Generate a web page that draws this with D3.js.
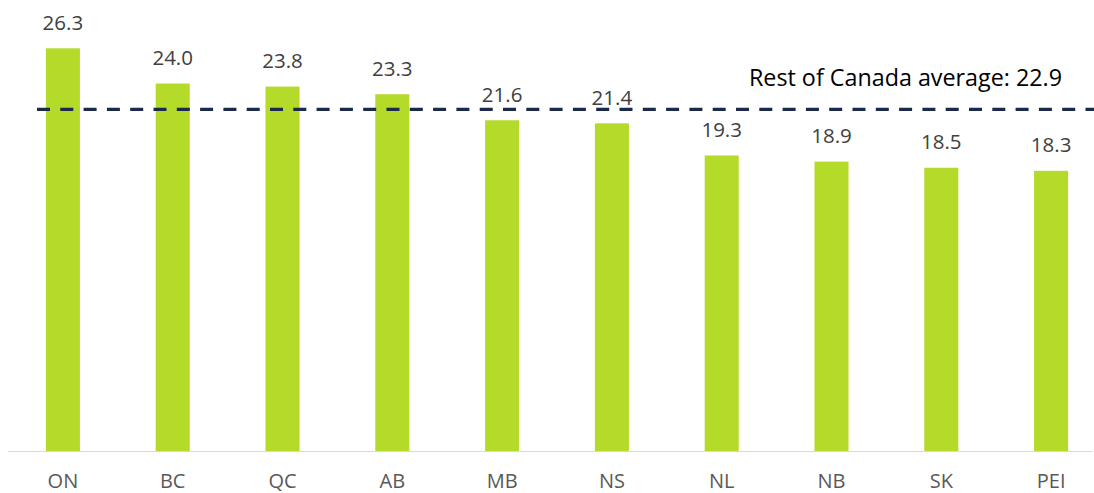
<!DOCTYPE html>
<html>
<head>
<meta charset="utf-8">
<script src="https://cdn.jsdelivr.net/npm/d3@7"></script>
<style>
  html, body { margin: 0; padding: 0; background: #fff; }
  svg { display: block; font-family: "Open Sans", Lato, sans-serif; }
</style>
</head>
<body>
<svg id="chart" width="1094" height="493"></svg>
<script>
// Provinces and their values
const provinces = ["ON", "BC", "QC", "AB", "MB", "NS", "NL", "NB", "SK", "PEI"];
const values = [26.3, 24.0, 23.8, 23.3, 21.6, 21.4, 19.3, 18.9, 18.5, 18.3];
const averageValue = 22.9;
const averageLabel = "Rest of Canada average: " + averageValue.toFixed(1);

const svg = d3.select("#chart");
const baseY = 451;
const topY = 48.3;

const x = d3.scaleBand()
  .domain(provinces)
  .range([8, 1106])
  .paddingInner(0.69)
  .paddingOuter(0.345);

// Primary axis for the bars
const y = d3.scaleLinear()
  .domain([0, 26.3])
  .range([baseY, topY]);

// Secondary axis for the average line
const y2 = d3.scaleLinear()
  .domain([0, 27])
  .range([baseY, topY]);

const rows = provinces.map((p, i) => ({ p, v: values[i] }));

// Bars
svg.append("g").selectAll("rect")
  .data(rows)
  .join("rect")
  .attr("x", d => x(d.p))
  .attr("y", d => y(d.v))
  .attr("width", x.bandwidth())
  .attr("height", d => baseY - y(d.v))
  .attr("fill", "#b4da2a");

// Value labels
svg.append("g").selectAll("text")
  .data(rows)
  .join("text")
  .attr("x", d => x(d.p) + x.bandwidth() / 2)
  .attr("y", d => y(d.v) - 18.5)
  .attr("text-anchor", "middle")
  .attr("font-size", 20.5)
  .attr("fill", "#404040")
  .text(d => d.v.toFixed(1));

// Category axis
const xAxis = svg.append("g")
  .attr("transform", `translate(0,${baseY})`)
  .call(d3.axisBottom(x).tickSize(0).tickPadding(23));
xAxis.select(".domain").attr("d", "M8,0.5H1093").attr("stroke", "#d9d9d9").attr("stroke-width", 1.2);
xAxis.selectAll("text")
  .attr("font-family", "'Open Sans', Lato, sans-serif")
  .attr("font-size", 20)
  .attr("fill", "#595959");

// Average reference line
svg.append("line")
  .attr("x1", 37).attr("x2", 1094)
  .attr("y1", y2(averageValue)).attr("y2", y2(averageValue))
  .attr("stroke", "#1b2a4a")
  .attr("stroke-width", 3.2)
  .attr("stroke-dasharray", "13,10.3");

svg.append("text")
  .attr("x", 1062)
  .attr("y", 86)
  .attr("text-anchor", "end")
  .attr("font-size", 23.3)
  .attr("fill", "#000")
  .text(averageLabel);
</script>
</body>
</html>
